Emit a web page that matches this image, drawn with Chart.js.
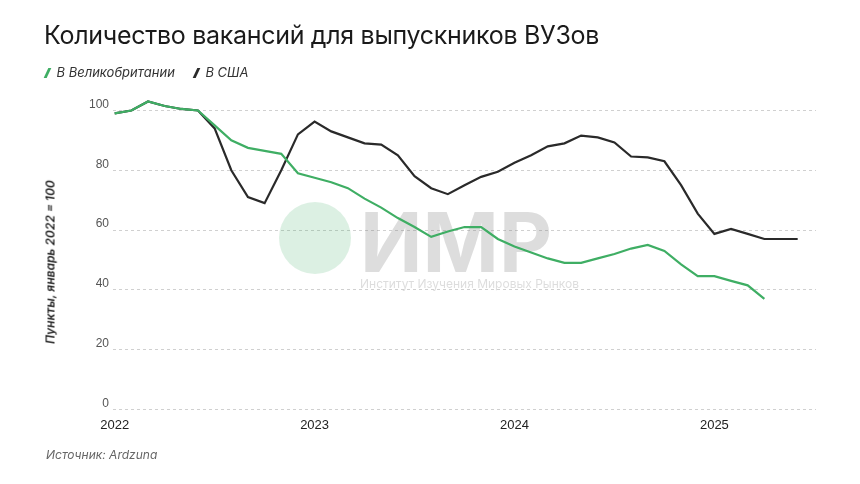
<!DOCTYPE html>
<html>
<head>
<meta charset="utf-8">
<script src="https://cdn.jsdelivr.net/npm/chart.js@4"></script>
<style>
  body { margin: 0; background: #fff; font-family: Inter, "Noto Sans", sans-serif; }
  #wrap { position: relative; width: 860px; height: 484px; }
  #title { position: absolute; left: 44px; top: 20px; font-size: 25px; color: #1a1a1a; letter-spacing: -0.3px; }
  #legend { position: absolute; left: 46px; top: 64px; font-size: 13px; font-style: italic; color: #333; }
  #legend span { margin-right: 20px; }
  #legend i { display: inline-block; width: 2.5px; height: 10px; transform: skewX(-25deg); margin-right: 8px; vertical-align: -1px; }
  #source { position: absolute; left: 46px; top: 447px; font-size: 12px; font-style: italic; color: #666; }
  #ytitle { position: absolute; left: 50px; top: 262px; transform: translate(-50%, -50%) rotate(-90deg); white-space: nowrap;
            font-size: 12px; font-style: italic; font-weight: 600; color: #222; }
  canvas { position: absolute; left: 0; top: 0; }
</style>
</head>
<body>
<div id="wrap">
  <canvas id="chart" width="860" height="484"></canvas>
  <div id="title">Количество вакансий для выпускников ВУЗов</div>
  <div id="legend"><span><i style="background:#3fae64"></i>В Великобритании</span><span><i style="background:#2a2a2a"></i>В США</span></div>
  <div id="ytitle">Пункты, январь 2022 = 100</div>
  <div id="source">Источник: Ardzuna</div>
</div>
<script>
// Monthly index 0 = January 2022
const ukValues = [99, 100, 103, 101.5, 100.5, 100, 95, 90, 87.5, 86.5, 85.5, 79,
  77.5, 76, 74, 70.5, 67.5, 64, 61, 57.7, 59.5, 61, 61, 57,
  54.5, 52.5, 50.5, 49, 49, 50.5, 52, 53.8, 55, 53, 48.5, 44.6,
  44.6, 43, 41.5, 37];
const usValues = [99, 100, 103, 101.5, 100.5, 100, 94, 80, 71, 69, 80, 92,
  96.3, 93, 91, 89, 88.6, 85, 78, 74, 72, 75, 77.8, 79.5,
  82.5, 85, 88, 89, 91.6, 91, 89.3, 84.6, 84.3, 83, 75, 65.5,
  58.7, 60.4, 58.7, 57, 57, 57];
const yearTicks = [0, 12, 24, 36];
const yearLabels = ['2022', '2023', '2024', '2025'];

const toPoints = arr => arr.map((v, i) => ({ x: i, y: v }));

// watermark behind the lines
const watermark = {
  id: 'watermark',
  beforeDatasetsDraw(chart) {
    const c = chart.ctx;
    c.save();
    c.fillStyle = 'rgba(63,174,100,0.18)';
    c.beginPath();
    c.arc(315, 238, 36, 0, Math.PI * 2);
    c.fill();
    c.fillStyle = 'rgba(120,120,120,0.25)';
    c.font = 'bold 82px Inter, sans-serif';
    c.textBaseline = 'alphabetic';
    c.fillText('ИМР', 360, 272);
    c.font = '12px Inter, sans-serif';
    c.fillText('Институт Изучения Мировых Рынков', 360, 276 + 12);
    c.restore();
  }
};

new Chart(document.getElementById('chart'), {
  type: 'line',
  data: {
    datasets: [
      { label: 'В США', data: toPoints(usValues), borderColor: '#2a2a2a', borderWidth: 2.2, pointRadius: 0, tension: 0, order: 2 },
      { label: 'В Великобритании', data: toPoints(ukValues), borderColor: '#3fae64', borderWidth: 2.2, pointRadius: 0, tension: 0, order: 1 }
    ]
  },
  options: {
    responsive: false,
    animation: false,
    layout: { padding: { top: 100, bottom: 51, left: 85, right: 44 } },
    plugins: { legend: { display: false }, tooltip: { enabled: false } },
    scales: {
      x: {
        type: 'linear', min: -0.1, max: 42.1,
        afterBuildTicks: axis => { axis.ticks = yearTicks.map(v => ({ value: v })); },
        ticks: { callback: v => yearLabels[yearTicks.indexOf(v)], color: '#222', font: { size: 13 }, padding: 0 },
        grid: { display: false },
        border: { display: false }
      },
      y: {
        min: 0, max: 103.5,
        afterBuildTicks: axis => { axis.ticks = [0, 20, 40, 60, 80, 100].map(v => ({ value: v })); },
        ticks: { color: '#555', font: { size: 12 }, padding: 4, labelOffset: -6 },
        grid: { color: '#d0d0d0', lineWidth: 1, drawTicks: false },
        border: { display: false, dash: [3, 3] }
      }
    }
  },
  plugins: [watermark]
});
</script>
</body>
</html>
